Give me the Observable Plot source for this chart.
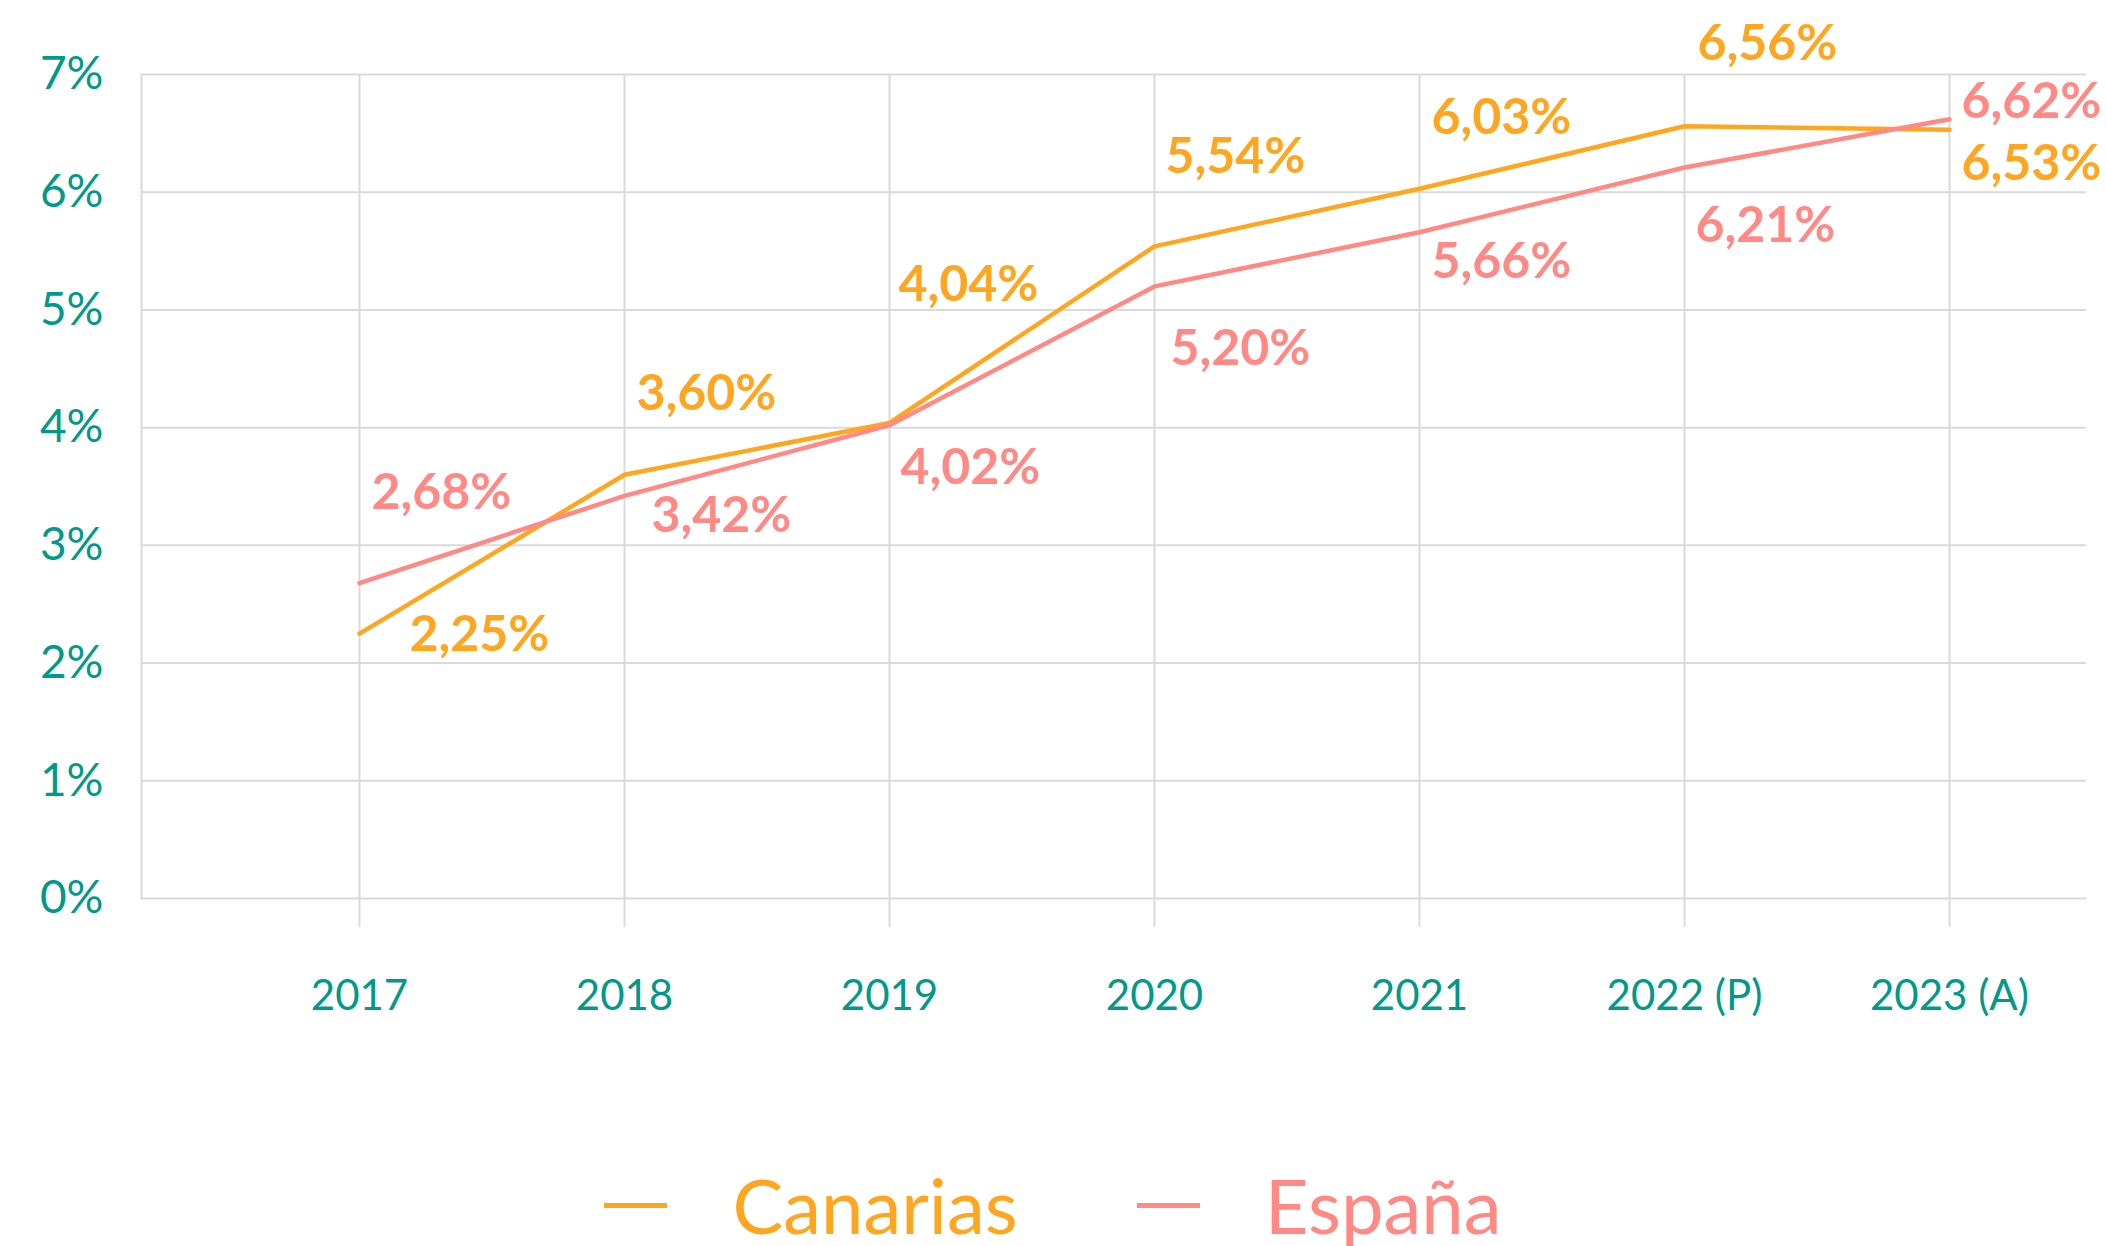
<!DOCTYPE html>
<html><head><meta charset="utf-8">
<script src="https://cdn.jsdelivr.net/npm/d3@7"></script>
<script src="https://cdn.jsdelivr.net/npm/@observablehq/plot@0.6"></script>
<style>
html,body{margin:0;padding:0;background:#fff;}
body{width:2106px;height:1246px;overflow:hidden;font-family:Lato,"Noto Sans",sans-serif;position:relative;}
#legend{position:absolute;left:0;top:1150px;width:2106px;height:110px;display:flex;justify-content:center;align-items:center;}
.item{display:flex;align-items:center;font-size:76px;line-height:1;}
.swatch{width:63px;height:5px;margin-right:65px;}
</style></head><body>
<div id="chart"></div>
<div id="legend"></div>
<script>
// ---- data ----
const years = ["2017", "2018", "2019", "2020", "2021", "2022 (P)", "2023 (A)"];
const canarias = [2.25, 3.60, 4.04, 5.54, 6.03, 6.56, 6.53];
const espana = [2.68, 3.42, 4.02, 5.20, 5.66, 6.21, 6.62];
const yTicks = [0, 1, 2, 3, 4, 5, 6, 7];
const seriesNames = ["Canarias", "España"];
const seriesColors = ["#ffa620", "#ff8a85"];

// ---- layout (label offsets in px, relative to each point) ----
const labelOffsets = {
  "Canarias": [[50, 1], [12, -81], [9, -138], [11, -89], [12, -71], [13, -82], [12, 34]],
  "España":   [[12, -90], [27, 20], [11, 43], [16, 63], [12, 30], [11, 59], [12, -17]]
};

const series = [canarias, espana];
const rows = [];
seriesNames.forEach((name, s) => {
  years.forEach((yr, i) => rows.push({series: name, year: yr, value: series[s][i], idx: i}));
});
const fmt = v => v.toFixed(2).replace(".", ",") + "%";

const grid = "#d9dada";
const teal = "#00998a";

const labelMarks = rows.map(d => Plot.text([d], {
  x: "year", y: "value", text: r => fmt(r.value),
  dx: labelOffsets[d.series][d.idx][0], dy: labelOffsets[d.series][d.idx][1],
  textAnchor: "start", fill: seriesColors[seriesNames.indexOf(d.series)],
  fontSize: 50, fontWeight: "bold"
}));

const chart = Plot.plot({
  width: 2106,
  height: 1060,
  marginTop: 74,
  marginBottom: 162,
  marginLeft: 141,
  marginRight: 20,
  style: {fontFamily: "Lato, 'Noto Sans', sans-serif", background: "#fff"},
  x: {type: "point", domain: years, range: [357, 1950], padding: 0},
  y: {domain: [0, 7], ticks: yTicks},
  color: {domain: seriesNames, range: seriesColors},
  marks: [
    Plot.gridY(yTicks, {stroke: grid, strokeOpacity: 1, strokeWidth: 2}),
    Plot.gridX(years, {stroke: grid, strokeOpacity: 1, strokeWidth: 2}),
    Plot.frame({anchor: "left", stroke: grid, strokeWidth: 2}),
    Plot.axisX(years, {tickSize: 29, stroke: grid, strokeWidth: 2, tickPadding: 53, fill: teal, fontSize: 42, label: null}),
    Plot.axisY(yTicks, {tickSize: 0, tickPadding: 38, tickFormat: d => d + "%", fill: teal, fontSize: 46, label: null}),
    Plot.line(rows.filter(d => d.series === "Canarias"), {x: "year", y: "value", stroke: seriesColors[0], strokeWidth: 4.5}),
    Plot.line(rows.filter(d => d.series === "España"), {x: "year", y: "value", stroke: seriesColors[1], strokeWidth: 4.5}),
    ...labelMarks
  ]
});
document.getElementById("chart").appendChild(chart);

const legend = document.getElementById("legend");
seriesNames.forEach((name, i) => {
  const it = document.createElement("div");
  it.className = "item";
  if (i > 0) it.style.marginLeft = "119px";
  const sw = document.createElement("div");
  sw.className = "swatch";
  sw.style.background = seriesColors[i];
  const tx = document.createElement("span");
  tx.textContent = name;
  tx.style.color = seriesColors[i];
  it.appendChild(sw); it.appendChild(tx);
  legend.appendChild(it);
});
</script>
</body></html>
